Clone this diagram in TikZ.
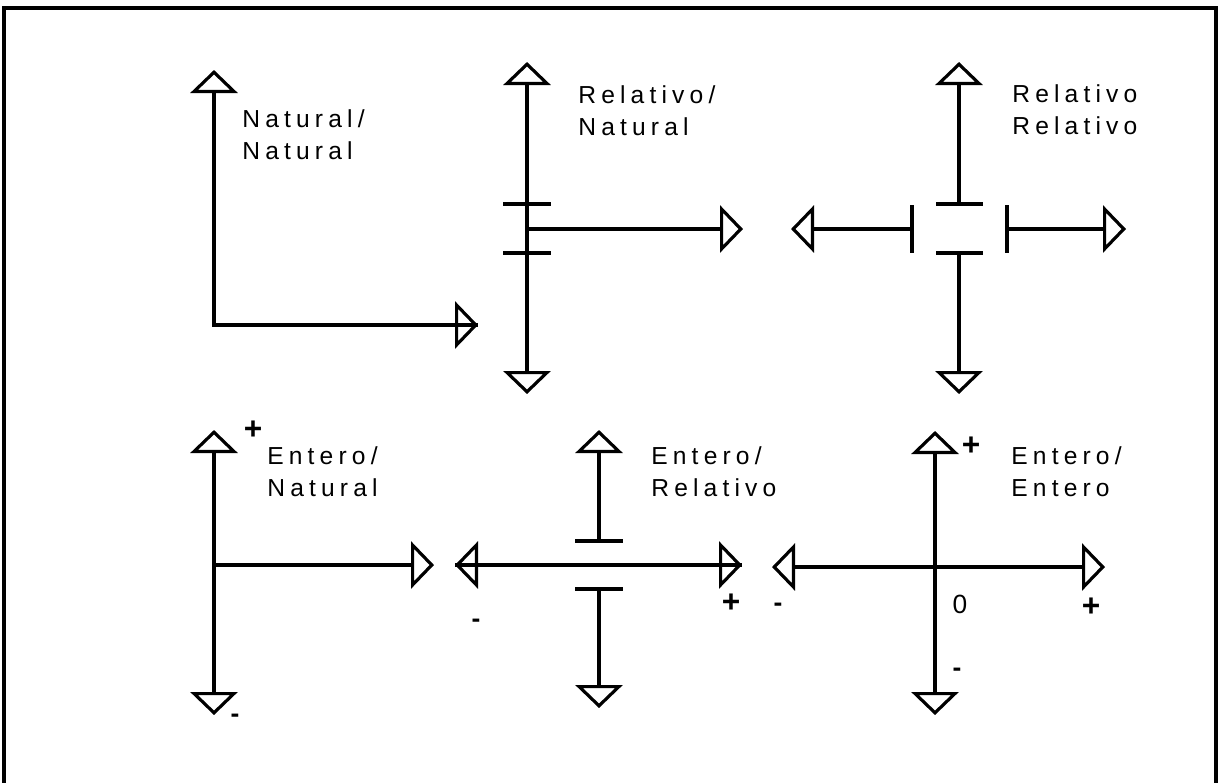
\documentclass[tikz,border=0pt]{standalone}
\usepackage{fontspec}
\setmainfont{Liberation Sans}
\newfontfamily\widefont[LetterSpace=21]{Liberation Sans}
\usetikzlibrary{arrows.meta}
\tikzset{
  frame_line/.style={line width=1.9pt, black},
  axis_line/.style={line width=1.8pt, black},
  tick_mark/.style={line width=1.8pt, black},
  open_tip/.style={-{Triangle[open, length=0.46cm, width=0.94cm]}},
  open_tips/.style={{Triangle[open, length=0.46cm, width=0.94cm]}-{Triangle[open, length=0.46cm, width=0.94cm]}},
  label_text/.style={font=\widefont\fontsize{14}{18.2}\selectfont, anchor=base west, align=left, inner sep=0pt},
  plus_text/.style={font=\bfseries\fontsize{18}{18}\selectfont, inner sep=0pt},
  minus_text/.style={font=\bfseries\fontsize{15}{15}\selectfont, inner sep=0pt},
  zero_text/.style={font=\fontsize{15}{16}\selectfont, inner sep=0pt}
}
\begin{document}
\begin{tikzpicture}[x=0.02cm, y=-0.02cm]
  \useasboundingbox (0,0) rectangle (1220,782);

  % frame, open at the bottom
  \draw[frame_line] (4,800) -- (4,8) -- (1216,8) -- (1216,800);

  % Natural / Natural
  \coordinate (nn_o) at (214,325);
  \coordinate (nn_up) at (214,70);
  \coordinate (nn_right) at (478,325);
  \draw[axis_line, open_tips] (nn_up) -- (nn_o) -- (nn_right);
  \draw[axis_line] (nn_o) -- (nn_right);
  \node[label_text] (nn_lbl) at (242,159) {Natural/\\Natural};

  % Relativo / Natural
  \coordinate (rn_o) at (527,229);
  \coordinate (rn_up) at (527,62);
  \coordinate (rn_down) at (527,394);
  \coordinate (rn_right) at (743,229);
  \draw[axis_line, open_tips] (rn_up) -- (rn_down);
  \draw[axis_line, open_tip] (rn_o) -- (rn_right);
  \draw[tick_mark] (503,204) -- (551,204);
  \draw[tick_mark] (503,253) -- (551,253);
  \node[label_text] (rn_lbl) at (578,135) {Relativo/\\Natural};

  % Relativo / Relativo
  \coordinate (rr_top) at (959,204);
  \coordinate (rr_bot) at (959,253);
  \coordinate (rr_lft) at (912,229);
  \coordinate (rr_rgt) at (1007,229);
  \coordinate (rr_up) at (959,62);
  \coordinate (rr_down) at (959,394);
  \coordinate (rr_left) at (791,229);
  \coordinate (rr_right) at (1126,229);
  \draw[axis_line, open_tip] (rr_top) -- (rr_up);
  \draw[axis_line, open_tip] (rr_bot) -- (rr_down);
  \draw[axis_line, open_tip] (rr_lft) -- (rr_left);
  \draw[axis_line, open_tip] (rr_rgt) -- (rr_right);
  \draw[tick_mark] (936,204) -- (983,204);
  \draw[tick_mark] (936,253) -- (983,253);
  \draw[tick_mark] (912,205) -- (912,253);
  \draw[tick_mark] (1007,205) -- (1007,253);
  \node[label_text] (rr_lbl) at (1012,134) {Relativo\\Relativo};

  % Entero / Natural
  \coordinate (en_o) at (214,565);
  \coordinate (en_up) at (214,430);
  \coordinate (en_down) at (214,715);
  \coordinate (en_right) at (434,565);
  \draw[axis_line, open_tips] (en_up) -- (en_down);
  \draw[axis_line, open_tip] (en_o) -- (en_right);
  \node[label_text] (en_lbl) at (267,496) {Entero/\\Natural};
  \node[plus_text] (en_plus) at (253,430) {+};
  \node[minus_text] (en_minus) at (235,718) {-};

  % Entero / Relativo
  \coordinate (er_top) at (599,541);
  \coordinate (er_bot) at (599,589);
  \coordinate (er_up) at (599,430);
  \coordinate (er_down) at (599,708);
  \coordinate (er_left) at (455,565);
  \coordinate (er_right) at (742,565);
  \draw[axis_line, open_tip] (er_top) -- (er_up);
  \draw[axis_line, open_tip] (er_bot) -- (er_down);
  \draw[axis_line, open_tips] (er_left) -- (er_right);
  \draw[axis_line] (er_left) -- (er_right);
  \draw[tick_mark] (575,541) -- (623,541);
  \draw[tick_mark] (575,589) -- (623,589);
  \node[label_text] (er_lbl) at (651,496) {Entero/\\Relativo};
  \node[plus_text] (er_plus) at (731,603) {+};
  \node[minus_text] (er_minus) at (476,623) {-};

  % Entero / Entero
  \coordinate (ee_up) at (935,431);
  \coordinate (ee_down) at (935,715);
  \coordinate (ee_left) at (772,567);
  \coordinate (ee_right) at (1105,567);
  \draw[axis_line, open_tips] (ee_up) -- (ee_down);
  \draw[axis_line, open_tips] (ee_left) -- (ee_right);
  \node[label_text] (ee_lbl) at (1011,496) {Entero/\\Entero};
  \node[plus_text] (ee_plus_up) at (971,446) {+};
  \node[minus_text] (ee_minus_left) at (778,607) {-};
  \node[zero_text] (ee_zero) at (960,604) {0};
  \node[plus_text] (ee_plus_right) at (1091,607) {+};
  \node[minus_text] (ee_minus_down) at (957,672) {-};

\end{tikzpicture}
\end{document}
